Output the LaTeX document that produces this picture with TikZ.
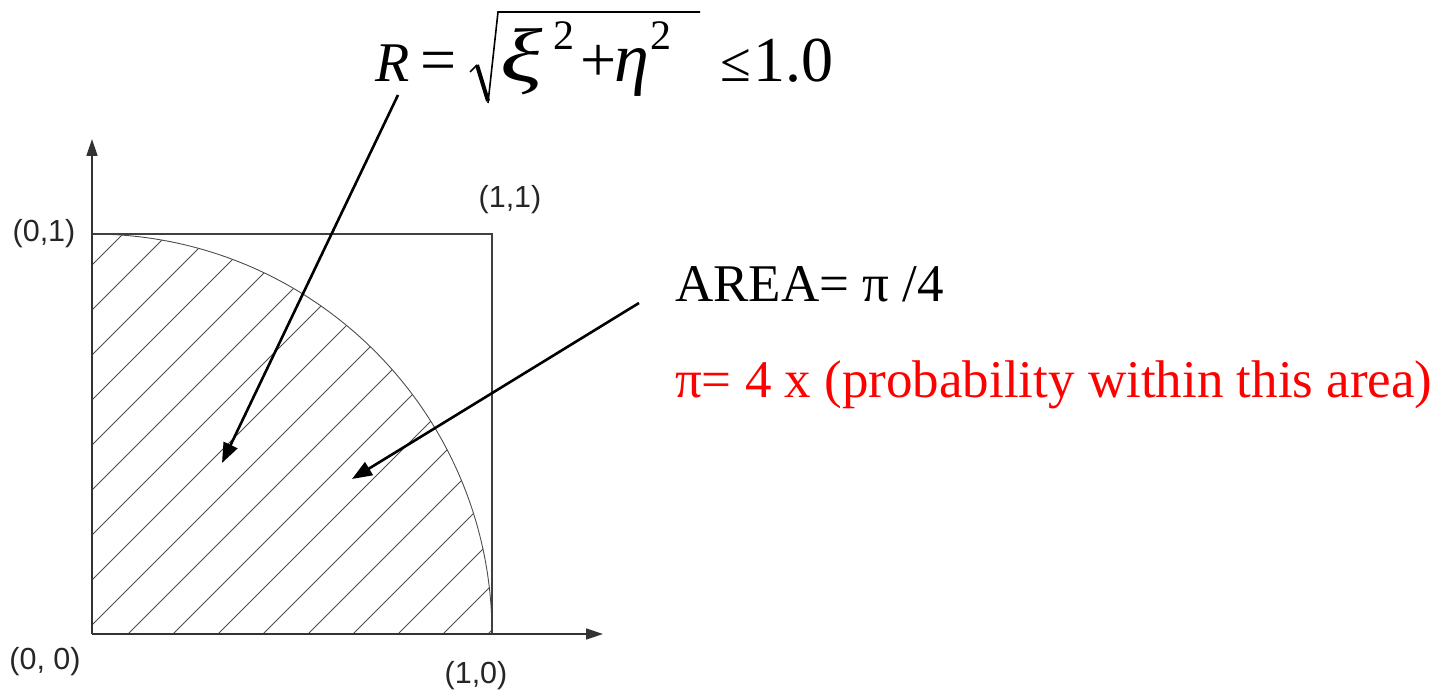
\documentclass[tikz,border=0pt]{standalone}
\usepackage{fontspec}
\setmainfont{Liberation Serif}
\newfontfamily\lsans{Liberation Sans}
\usetikzlibrary{arrows.meta}
\begin{document}
\begin{tikzpicture}[x=1pt,y=1pt,
  hatch/.style={draw=black!70, line width=0.9pt},
  frame/.style={draw=black!75, line width=1.4pt},
  axis/.style={draw=black!80, line width=1.4pt, -{Triangle[length=17pt,width=11pt]}},
  callout/.style={draw=black, line width=2.6pt, -{Triangle[length=20pt,width=15pt]}},
  coordlab/.style={font=\lsans\fontsize{30.5}{30.5}\selectfont, inner sep=0pt, text=black!85},
  big/.style={font=\fontsize{56}{60}\selectfont, inner sep=0pt, anchor=base west},
  bigop/.style={font=\fontsize{64}{68}\selectfont, inner sep=0pt, anchor=base west},
  greek/.style={font=\fontsize{70}{74}\selectfont\itshape, inner sep=0pt, anchor=base west},
  supr/.style={font=\fontsize{42}{42}\selectfont, inner sep=0pt, anchor=base west},
  txt/.style={font=\fontsize{53}{58}\selectfont, inner sep=0pt, anchor=base west}]
\useasboundingbox (0,0) rectangle (1442,691);
\coordinate (O) at (92,57);
\coordinate (X1) at (492,57);
\coordinate (Y1) at (92,457);
\coordinate (C11) at (492,457);
\coordinate (Xend) at (603,57);
\coordinate (Yend) at (92,552);
% hatching inside quarter circle
\begin{scope}
  \clip (O) -- (X1) arc[start angle=0,end angle=90,radius=400] -- cycle;
  \foreach \k in {-9,...,8} \draw[hatch] ({92+36+45*\k-20},37) -- ++(460,460);
\end{scope}
\draw[line width=0.9pt, black!70] (X1) arc[start angle=0,end angle=90,radius=400];
\draw[frame] (Y1) -- (C11) -- (X1);
\draw[axis] (O) -- (Xend);
\draw[axis] (O) -- (Yend);
% corner labels
\node[coordlab] (l01) at (44,457) {(0,1)};
\node[coordlab] (l11) at (510,491) {(1,1)};
\node[coordlab] (l00) at (45,29) {(0, 0)};
\node[coordlab] (l10) at (476,15) {(1,0)};
% formula
\node[big] (fR) at (375,609) {\itshape R};
\node[bigop] (feq) at (420,609) {=};
\node[greek, font=\fontsize{76}{80}\selectfont\itshape] (fxi) at (500,609) {\scalebox{1.3}[1]{ξ}};
\node[supr] (fs1) at (553,641) {2};
\node[bigop] (fplus) at (580,609) {+};
\node[greek] (feta) at (614,609) {η};
\node[supr] (fs2) at (650,641) {2};
\node[big] (fle) at (720,609) {≤};
\node[bigop] (fone) at (753,609) {1.0};
\draw[line width=1.6pt] (470,619) -- (477,626);
\draw[line width=4pt] (477,626) -- (488,590);
\draw[line width=1.6pt, line join=miter] (488,588) -- (498,679) -- (700,679);
% texts
\node[txt] (area) at (675,389) {AREA= π /4};
\node[txt, text=red] (prob) at (675,293) {π= 4 x (probability within this area)};
% callout arrows
\coordinate (a1s) at (398,596);
\coordinate (a1e) at (222,228);
\coordinate (a2s) at (639,388);
\coordinate (a2e) at (352,212);
\draw[callout] (a1s) -- (a1e);
\draw[callout] (a2s) -- (a2e);
\end{tikzpicture}
\end{document}
